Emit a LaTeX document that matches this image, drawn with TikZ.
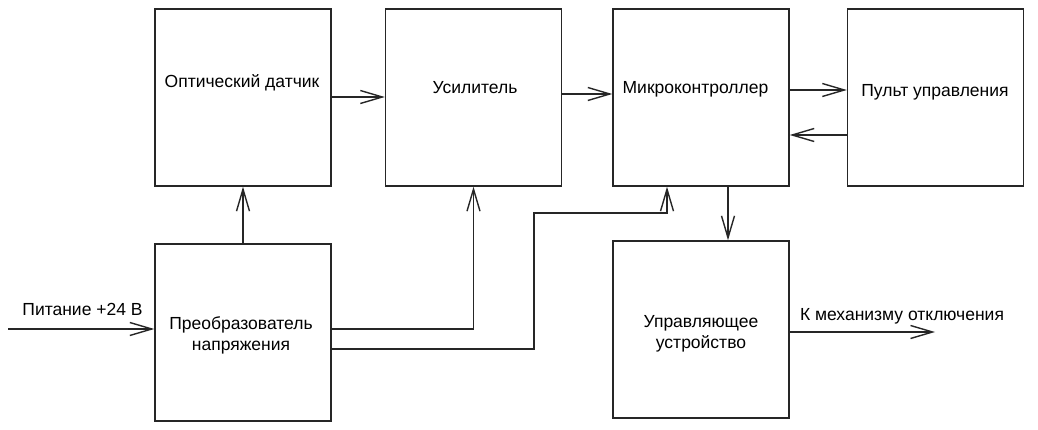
\documentclass[tikz,border=0pt]{standalone}
\usepackage{fontspec}
\setmainfont{Liberation Sans}
\usetikzlibrary{arrows.meta}
\begin{document}
\begin{tikzpicture}[x=1pt,y=-1pt,
  blk/.style={draw=black!85,line width=1.4pt,minimum width=176pt,minimum height=177pt,inner sep=0pt},
  lbl/.style={font=\fontsize{17.5}{20.5}\selectfont,align=center,anchor=base,inner sep=0pt},
  wire/.style={draw=black!85,line width=1.4pt},
  arr/.style={wire,-{Straight Barb[length=22pt,width=13pt,line width=1.4pt]}}]
\useasboundingbox (0,0) rectangle (1038,430);
% boxes
\node[blk] (opt) at (243,97.5) {};
\node[blk] (amp) at (473.5,97.5) {};
\node[blk] (mc) at (701,97.5) {};
\node[blk] (pult) at (935.5,97.5) {};
\node[blk] (conv) at (243,332.5) {};
\node[blk] (ctrl) at (701,329.5) {};
% texts
\node[lbl] (t1) at (242,88) {Оптический датчик};
\node[lbl] (t2) at (475,94) {Усилитель};
\node[lbl] (t3) at (695.5,94) {Микроконтроллер};
\node[lbl] (t4) at (935,97) {Пульт управления};
\node[lbl] (t5) at (241,350) {Преобразователь\\напряжения};
\node[lbl] (t6) at (701,348) {Управляющее\\устройство};
\node[lbl] (tin) at (82.5,315) {Питание +24 В};
\node[lbl] (tout) at (902,320) {К механизму отключения};
% coordinates
\coordinate (in) at (8,329);
\coordinate (out) at (935,332);
\coordinate (bend) at (534,213);
% connectors
\draw[arr] ([yshift=0.5pt]opt.east) -- ([yshift=0.5pt]amp.west);
\draw[arr] ([yshift=3.5pt]amp.east) -- ([yshift=3.5pt]mc.west);
\draw[arr] ([yshift=7.5pt]mc.east) -- ([yshift=7.5pt]pult.west);
\draw[arr] ([yshift=-37.5pt]pult.west) -- ([yshift=-37.5pt]mc.east);
\draw[arr] (conv.north) -- (opt.south);
\draw[arr] ([yshift=3.5pt]conv.east) -| (amp.south);
\draw[arr] ([yshift=-16.5pt]conv.east) -| (bend) -| ([xshift=-34pt]mc.south);
\draw[arr] ([xshift=27pt]mc.south) -- ([xshift=27pt]ctrl.north);
\draw[arr] (in) -- ([yshift=3.5pt]conv.west);
\draw[arr] ([yshift=-2.5pt]ctrl.east) -- (out);
\end{tikzpicture}
\end{document}
